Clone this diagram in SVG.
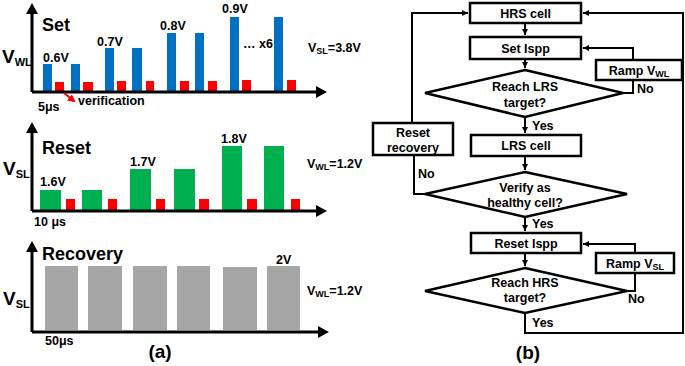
<svg xmlns="http://www.w3.org/2000/svg" width="685" height="366" viewBox="0 0 685 366">
<style>
text{font-family:"Liberation Sans",Arial,sans-serif;font-weight:bold;fill:#000}
.ttl{font-size:18px}
.ax{font-size:19px}
.axs{font-size:11px}
.val{font-size:12.5px}
.sm{font-size:12.5px}
.sms{font-size:9px}
.fc{font-size:12.5px;text-anchor:middle}
.lbl{font-size:12.5px}
.cap{font-size:19px;text-anchor:middle}
.axis{stroke:#000;stroke-width:3;fill:none}
.blue{fill:#0070C0}
.red{fill:#FF0000}
.green{fill:#00B050}
.gray{fill:#A6A6A6}
.box{fill:#fff;stroke:#000;stroke-width:2.5}
.ln{stroke:#000;stroke-width:2;fill:none}
</style>
<defs>
<marker id="ah" markerWidth="10" markerHeight="10" refX="6" refY="5" orient="auto" markerUnits="userSpaceOnUse"><path d="M0,0 L10,5 L0,10 Z" fill="#000" transform="translate(-4,0)"/></marker>
<marker id="aa" markerWidth="14" markerHeight="14" refX="10" refY="7" orient="auto" markerUnits="userSpaceOnUse"><path d="M0,0 L14,7 L0,14 Z" fill="#000"/></marker>
<marker id="ar" markerWidth="8" markerHeight="8" refX="6" refY="4" orient="auto" markerUnits="userSpaceOnUse"><path d="M0,0 L8,4 L0,8 Z" fill="#FF0000"/></marker>
</defs>

<!-- Panel (a): Set -->
<g id="set-panel">
<rect class="blue" x="43" y="64" width="9" height="28"/>
<rect class="blue" x="71" y="64" width="9" height="28"/>
<rect class="blue" x="105" y="48" width="9" height="44"/>
<rect class="blue" x="132" y="48" width="10" height="44"/>
<rect class="blue" x="167" y="33" width="9" height="59"/>
<rect class="blue" x="195" y="33" width="9" height="59"/>
<rect class="blue" x="230" y="17" width="9" height="75"/>
<rect class="blue" x="274" y="17" width="9" height="75"/>
<rect class="red" x="55" y="82" width="9" height="10"/>
<rect class="red" x="83" y="82" width="10" height="10"/>
<rect class="red" x="117" y="81" width="9" height="11"/>
<rect class="red" x="146" y="81" width="8" height="11"/>
<rect class="red" x="180" y="81" width="9" height="11"/>
<rect class="red" x="208" y="81" width="9" height="11"/>
<rect class="red" x="242" y="80" width="9" height="12"/>
<rect class="red" x="287" y="80" width="9" height="12"/>
<path class="axis" d="M32,92 V12 M32,92 H318" />
<path d="M32,3 L26,14 L38,14 Z M327,92 L316,86 L316,98 Z" fill="#000"/>
<text class="ttl" x="42" y="31">Set</text>
<text class="ax" x="2" y="63">V<tspan class="axs" dy="3">WL</tspan></text>
<text class="val" x="43" y="62">0.6V</text>
<text class="val" x="97" y="46">0.7V</text>
<text class="val" x="160" y="30">0.8V</text>
<text class="val" x="222" y="13">0.9V</text>
<text class="val" x="243" y="48">… x6</text>
<text class="sm" x="308" y="52">V<tspan class="sms" dy="2">SL</tspan><tspan dy="-2">=3.8V</tspan></text>
<text class="val" x="38" y="111">5μs</text>
<text class="val" x="78" y="105">verification</text>
<path d="M64,93 L74,101" stroke="#FF0000" stroke-width="2" marker-end="url(#ar)"/>
</g>

<!-- Panel (a): Reset -->
<g id="reset-panel">
<rect class="green" x="40" y="190" width="21" height="21"/>
<rect class="green" x="82" y="190" width="20" height="21"/>
<rect class="green" x="130" y="169" width="21" height="42"/>
<rect class="green" x="174" y="169" width="21" height="42"/>
<rect class="green" x="222" y="146" width="20" height="65"/>
<rect class="green" x="264" y="146" width="20" height="65"/>
<rect class="red" x="66" y="199" width="9" height="12"/>
<rect class="red" x="108" y="199" width="9" height="12"/>
<rect class="red" x="156" y="199" width="9" height="12"/>
<rect class="red" x="199" y="199" width="10" height="12"/>
<rect class="red" x="247" y="199" width="10" height="12"/>
<rect class="red" x="291" y="199" width="9" height="12"/>
<path class="axis" d="M32,211 V131 M32,211 H318" />
<path d="M32,122 L26,133 L38,133 Z M327,211 L316,205 L316,217 Z" fill="#000"/>
<text class="ttl" x="42" y="154">Reset</text>
<text class="ax" x="3" y="175">V<tspan class="axs" dy="3">SL</tspan></text>
<text class="val" x="40" y="186">1.6V</text>
<text class="val" x="130" y="166">1.7V</text>
<text class="val" x="221" y="143">1.8V</text>
<text class="sm" x="307" y="168">V<tspan class="sms" dy="2">WL</tspan><tspan dy="-2">=1.2V</tspan></text>
<text class="val" x="34" y="226">10 μs</text>
</g>

<!-- Panel (a): Recovery -->
<g id="recovery-panel">
<rect class="gray" x="45" y="266" width="33" height="64"/>
<rect class="gray" x="88" y="266" width="34" height="64"/>
<rect class="gray" x="133" y="266" width="34" height="64"/>
<rect class="gray" x="177" y="266" width="33" height="64"/>
<rect class="gray" x="223" y="267" width="34" height="63"/>
<rect class="gray" x="267" y="266" width="33" height="64"/>
<path class="axis" d="M32,332 V250 M32,332 H320" />
<path d="M32,241 L26,252 L38,252 Z M329,332 L318,326 L318,338 Z" fill="#000"/>
<text class="ttl" x="42" y="260">Recovery</text>
<text class="ax" x="3" y="305">V<tspan class="axs" dy="3">SL</tspan></text>
<text class="val" x="276" y="264">2V</text>
<text class="sm" x="307" y="295">V<tspan class="sms" dy="2">WL</tspan><tspan dy="-2">=1.2V</tspan></text>
<text class="val" x="45" y="345">50μs</text>
<text class="cap" x="160" y="358">(a)</text>
</g>

<!-- Panel (b): flowchart connectors -->
<g id="connectors">
<path class="ln" d="M525,23 V35" marker-end="url(#ah)"/>
<path class="ln" d="M525,59 V68" marker-end="url(#ah)"/>
<path class="ln" d="M525,117 V133" marker-end="url(#ah)"/>
<path class="ln" d="M525,156 V170" marker-end="url(#ah)"/>
<path class="ln" d="M525,217 V231" marker-end="url(#ah)"/>
<path class="ln" d="M525,253 V266" marker-end="url(#ah)"/>
<path class="ln" d="M623,93 H633 V80"/>
<path class="ln" d="M633,60 V48 H583" marker-end="url(#ah)"/>
<path class="ln" d="M627,291 H635 V273"/>
<path class="ln" d="M635,253 V244 H583" marker-end="url(#ah)"/>
<path class="ln" d="M425,194 H414 V155"/>
<path class="ln" d="M412,123 V13 H468" marker-end="url(#ah)"/>
<path class="ln" d="M525,313 V333 H683 V13 H583" marker-end="url(#ah)"/>
<text class="lbl" x="532" y="130">Yes</text>
<text class="lbl" x="637" y="93">No</text>
<text class="lbl" x="418" y="178">No</text>
<text class="lbl" x="532" y="228">Yes</text>
<text class="lbl" x="628" y="303">No</text>
<text class="lbl" x="532" y="327">Yes</text>
</g>

<g id="hrs-cell">
<rect class="box" x="470" y="3" width="111" height="20"/>
<text class="fc" x="525.5" y="18">HRS cell</text>
</g>
<g id="set-ispp">
<rect class="box" x="470" y="37" width="111" height="22"/>
<text class="fc" x="525.5" y="53">Set Ispp</text>
</g>
<g id="ramp-vwl">
<rect class="box" x="596" y="60" width="86" height="20"/>
<text class="fc" x="639" y="75">Ramp V<tspan class="sms" dy="2">WL</tspan></text>
</g>
<g id="reach-lrs">
<polygon class="box" points="525,70 623,93 525,117 425,93"/>
<text class="fc" x="525" y="91">Reach LRS</text>
<text class="fc" x="525" y="107">target?</text>
</g>
<g id="reset-recovery">
<rect class="box" x="373" y="123" width="80" height="32"/>
<text class="fc" x="413" y="137">Reset</text>
<text class="fc" x="413" y="152">recovery</text>
</g>
<g id="lrs-cell">
<rect class="box" x="471" y="135" width="110" height="21"/>
<text class="fc" x="526" y="150">LRS cell</text>
</g>
<g id="verify-healthy">
<polygon class="box" points="525,172 627,194 525,217 425,194"/>
<text class="fc" x="525" y="192">Verify as</text>
<text class="fc" x="525" y="207">healthy cell?</text>
</g>
<g id="reset-ispp">
<rect class="box" x="471" y="233" width="110" height="20"/>
<text class="fc" x="526" y="248">Reset Ispp</text>
</g>
<g id="ramp-vsl">
<rect class="box" x="596" y="253" width="78" height="20"/>
<text class="fc" x="635" y="268">Ramp V<tspan class="sms" dy="2">SL</tspan></text>
</g>
<g id="reach-hrs">
<polygon class="box" points="525,268 627,291 525,313 425,291"/>
<text class="fc" x="525" y="287">Reach HRS</text>
<text class="fc" x="525" y="302">target?</text>
</g>
<text class="cap" x="528" y="359">(b)</text>
</svg>
